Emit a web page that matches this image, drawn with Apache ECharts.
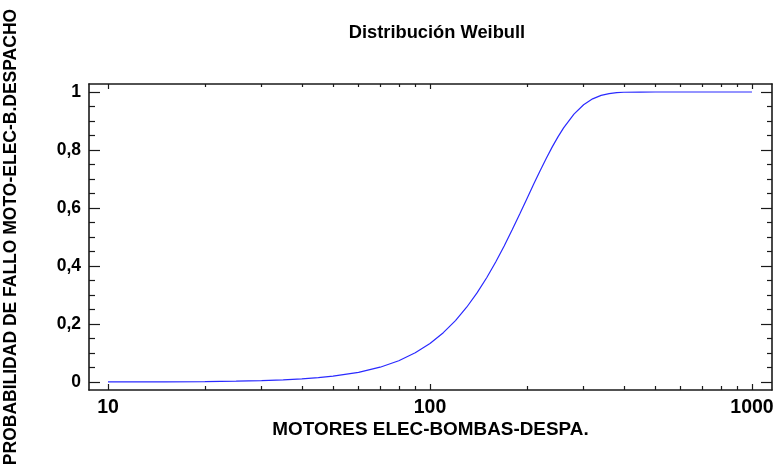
<!DOCTYPE html>
<html>
<head>
<meta charset="utf-8">
<script src="https://cdn.jsdelivr.net/npm/echarts@6/dist/echarts.min.js"></script>
<style>
html,body{margin:0;padding:0;background:#fff;}
#chart{width:775px;height:466px;}
</style>
</head>
<body>
<div id="chart"></div>
<script>
// Data
var hours = [10, 12, 15, 20, 25, 30, 35, 40, 45, 50, 60, 70, 80, 90, 100, 110, 120, 130, 140, 150, 160, 170, 180, 190, 200, 210, 220, 230, 240, 250, 260, 280, 300, 320, 340, 360, 380, 400, 450, 500, 600, 700, 800, 900, 1000];
var probFallo = [0.0002, 0.0004, 0.0007, 0.0015, 0.0029, 0.0048, 0.0074, 0.0108, 0.015, 0.0201, 0.0334, 0.051, 0.0733, 0.1006, 0.1329, 0.1701, 0.2118, 0.2578, 0.3072, 0.3595, 0.4139, 0.4692, 0.5247, 0.5793, 0.6321, 0.6824, 0.7294, 0.7726, 0.8116, 0.8462, 0.8763, 0.9238, 0.9561, 0.9764, 0.9882, 0.9946, 0.9977, 0.9991, 0.9999, 1, 1, 1, 1, 1, 1];
var xMajorTicks = [10, 100, 1000];
var xMinorTicks = [20, 30, 40, 50, 60, 70, 80, 90, 200, 300, 400, 500, 600, 700, 800, 900];
var yMajorTicks = [0, 0.2, 0.4, 0.6, 0.8, 1];
var yMinorTicks = [0.05, 0.1, 0.15, 0.25, 0.3, 0.35, 0.45, 0.5, 0.55, 0.65, 0.7, 0.75, 0.85, 0.9, 0.95];

var titleText = 'Distribución Weibull';
var xName = 'MOTORES ELEC-BOMBAS-DESPA.';
var yName = 'PROBABILIDAD DE FALLO MOTO-ELEC-B.DESPACHO';

var FONT = '"Liberation Sans", Arial, Helvetica, sans-serif';
var AX = '#1a1a1a';
var xMin = 8.73, xMax = 1154;
var yMin = -0.0276, yMax = 1.0276;

function xAxisDef(pos, ticks, len, opts) {
  var a = {
    type: 'log', gridIndex: 0, position: pos, min: xMin, max: xMax, logBase: 10,
    axisLine: {show: !!opts.line, onZero: false, lineStyle: {color: AX, width: 1.6}},
    axisTick: {show: true, inside: true, length: len, customValues: ticks, lineStyle: {color: AX, width: 1.2}},
    axisLabel: {show: false},
    splitLine: {show: false}, minorTick: {show: false}, minorSplitLine: {show: false}
  };
  if (opts.labels) {
    a.axisLabel = {show: true, customValues: ticks, margin: 8, color: '#000', fontFamily: FONT, fontWeight: 'bold', fontSize: 19.5,
      formatter: function (v) { return String(Math.round(v)); }};
    a.name = xName; a.nameLocation = 'middle'; a.nameGap = 30; a.nameMoveOverlap = false;
    a.nameTextStyle = {color: '#000', fontFamily: FONT, fontWeight: 'bold', fontSize: 18.9};
  }
  return a;
}
function yAxisDef(pos, ticks, len, opts) {
  var a = {
    type: 'value', gridIndex: 0, position: pos, min: yMin, max: yMax,
    axisLine: {show: !!opts.line, onZero: false, lineStyle: {color: AX, width: 1.6}},
    axisTick: {show: true, inside: true, length: len, customValues: ticks, lineStyle: {color: AX, width: 1.2}},
    axisLabel: {show: false},
    splitLine: {show: false}, minorTick: {show: false}
  };
  if (opts.labels) {
    a.axisLabel = {show: true, customValues: ticks, margin: 8, color: '#000', fontFamily: FONT, fontWeight: 'bold', fontSize: 17.5,
      formatter: function (v) { return String(Math.round(v * 10) / 10).replace('.', ','); }};
    a.name = yName; a.nameLocation = 'middle'; a.nameGap = 69; a.nameMoveOverlap = false;
    a.nameTextStyle = {color: '#000', fontFamily: FONT, fontWeight: 'bold', fontSize: 17.5};
  }
  return a;
}

var chart = echarts.init(document.getElementById('chart'), null, {renderer: 'canvas'});
chart.setOption({
  animation: false,
  backgroundColor: '#fff',
  title: {text: titleText, left: 432, top: 19, textAlign: 'center',
    textStyle: {color: '#000', fontFamily: FONT, fontWeight: 'bold', fontSize: 18.3}},
  grid: {left: 89, right: 3, top: 84, bottom: 76, containLabel: false, outerBoundsMode: 'none'},
  xAxis: [
    xAxisDef('bottom', xMajorTicks, 6, {line: true, labels: true}),
    xAxisDef('bottom', xMinorTicks, 4, {}),
    xAxisDef('top', xMajorTicks, 5, {line: true}),
    xAxisDef('top', xMinorTicks, 3, {})
  ],
  yAxis: [
    yAxisDef('left', yMajorTicks, 11, {line: true, labels: true}),
    yAxisDef('left', yMinorTicks, 6, {}),
    yAxisDef('right', yMajorTicks, 11, {line: true}),
    yAxisDef('right', yMinorTicks, 5, {})
  ],
  series: [{
    type: 'line', xAxisIndex: 0, yAxisIndex: 0,
    data: hours.map(function (h, i) { return [h, probFallo[i]]; }),
    showSymbol: false, symbol: 'none', smooth: false,
    lineStyle: {color: '#2a2aff', width: 1.2}
  }]
});
</script>
</body>
</html>
